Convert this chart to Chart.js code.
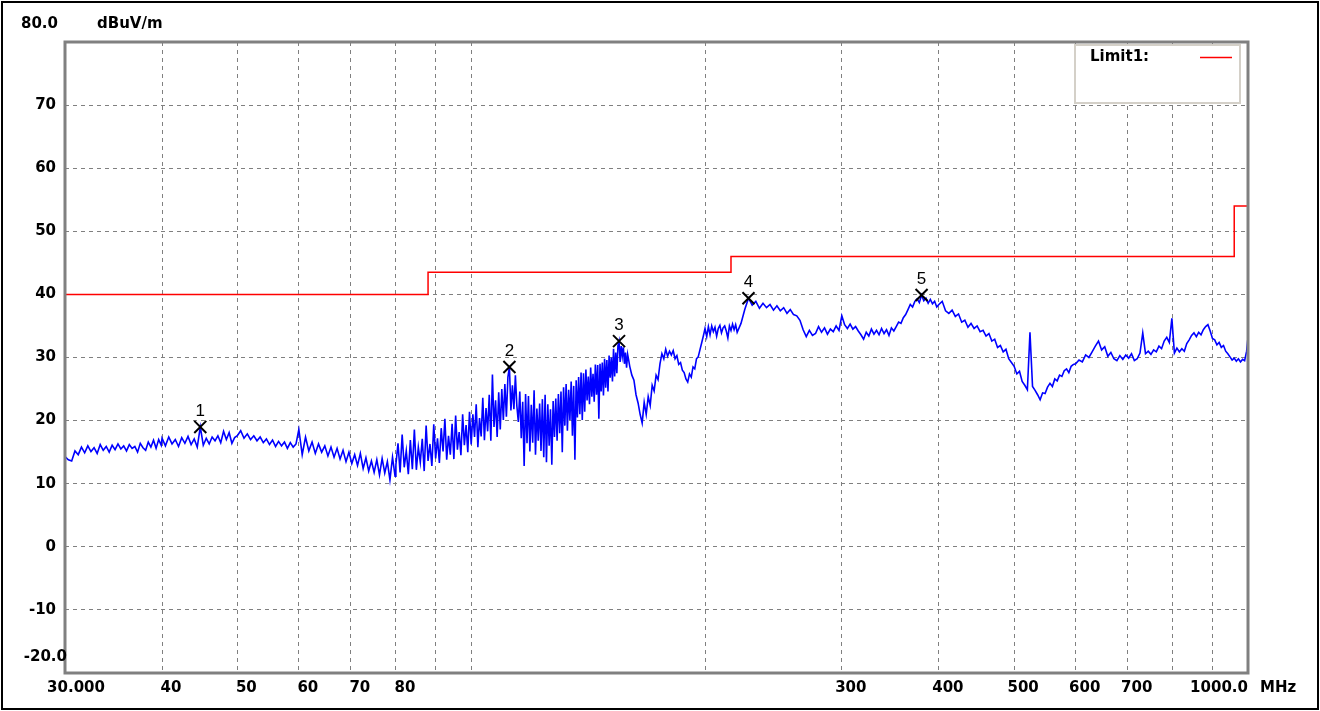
<!DOCTYPE html>
<html>
<head>
<meta charset="utf-8">
<title>Radiated emission scan</title>
<script src="https://cdn.jsdelivr.net/npm/chart.js@4.4.1/dist/chart.umd.min.js"></script>
<style>
  html, body { margin: 0; padding: 0; background: #fff; }
  canvas { display: block; }
</style>
</head>
<body>
<canvas id="scan" width="1320" height="711"></canvas>
<script>
// sweep frequencies, MHz
const freqMHz = [
  30.0, 30.3, 30.6, 30.9, 31.2, 31.5, 31.8, 32.1, 32.4, 32.7,
  33.0, 33.3, 33.6, 33.9, 34.2, 34.5, 34.8, 35.1, 35.4, 35.7,
  36.0, 36.3, 36.6, 36.9, 37.2, 37.5, 37.8, 38.1, 38.4, 38.7,
  39.0, 39.3, 39.6, 39.9,
  40.0, 40.4, 40.8, 41.2, 41.6, 42.0, 42.4, 42.8, 43.2, 43.6,
  44.0, 44.4, 44.8, 45.2, 45.6, 46.0, 46.4, 46.8, 47.2, 47.6,
  48.0, 48.4, 48.8, 49.2, 49.6,
  50.0, 50.5, 51.0, 51.5, 52.0, 52.5, 53.0, 53.5, 54.0, 54.5,
  55.0, 55.5, 56.0, 56.5, 57.0, 57.5, 58.0, 58.5, 59.0, 59.5,
  60.0, 60.6, 61.2, 61.8, 62.4, 63.0, 63.6, 64.2, 64.8, 65.4,
  66.0, 66.6, 67.2, 67.8, 68.4, 69.0, 69.6, 70.2, 70.8, 71.4,
  72.0, 72.6, 73.2, 73.8, 74.4, 75.0, 75.6, 76.2, 76.8, 77.4,
  78.0, 78.6, 79.2, 79.8,
  80.0, 80.5, 81.0, 81.5, 82.0, 82.5, 83.0, 83.5, 84.0, 84.5,
  85.0, 85.5, 86.0, 86.5, 87.0, 87.5, 88.0, 88.5, 89.0, 89.5,
  90.0, 90.5, 91.0, 91.5, 92.0, 92.5, 93.0, 93.5, 94.0, 94.5,
  95.0, 95.5, 96.0, 96.5, 97.0, 97.5, 98.0, 98.5, 99.0, 99.5,
  100.0, 100.5, 101.0, 101.5, 102.0, 102.5, 103.0, 103.5, 104.0, 104.5,
  105.0, 105.5, 106.0, 106.5, 107.0, 107.5, 108.0, 108.5, 109.0, 109.5,
  110.0, 110.5, 111.0, 111.5, 112.0, 112.5, 113.0, 113.5, 114.0, 114.5,
  115.0, 115.5, 116.0, 116.5, 117.0, 117.5, 118.0, 118.5, 119.0, 119.5,
  120.0, 120.5, 121.0, 121.5, 122.0, 122.5, 123.0, 123.5, 124.0, 124.5,
  125.0, 125.5, 126.0, 126.5, 127.0, 127.5, 128.0, 128.5, 129.0, 129.5,
  130.0, 130.5, 131.0, 131.5, 132.0, 132.5, 133.0, 133.5, 134.0, 134.5,
  135.0, 135.5, 136.0, 136.5, 137.0, 137.5, 138.0, 138.5, 139.0, 139.5,
  140.0, 140.5, 141.0, 141.5, 142.0, 142.5, 143.0, 143.5, 144.0, 144.5,
  145.0, 145.5, 146.0, 146.5, 147.0, 147.5, 148.0, 148.5, 149.0, 149.5,
  150.0, 150.5, 151.0, 151.5, 152.0, 152.5, 153.0, 153.5, 154.0, 154.5,
  155.0, 155.5, 156.0, 156.5, 157.0, 157.5, 158.0, 158.5, 159.0, 159.5,
  160, 161, 162, 163, 164, 165, 166, 167, 168, 169,
  170, 171, 172, 173, 174, 175, 176, 177, 178, 179,
  180, 181, 182, 183, 184, 185, 186, 187, 188, 189,
  190, 191, 192, 193, 194, 195, 196, 197, 198, 199,
  200, 201, 202, 203, 204, 205, 206, 207, 208, 209,
  210, 211, 212, 213, 214, 215, 216, 217, 218, 219,
  220.0, 222.5, 225.0, 227.5, 230.0, 232.5, 235.0, 237.5, 240.0, 242.5,
  245.0, 247.5, 250.0, 252.5, 255.0, 257.5, 260.0, 262.5, 265.0, 267.5,
  270.0, 272.5, 275.0, 277.5, 280.0, 282.5, 285.0, 287.5, 290.0, 292.5,
  295.0, 297.5, 300.0, 302.5, 305.0, 307.5, 310.0, 312.5, 315.0, 317.5,
  320.0, 322.5, 325.0, 327.5, 330.0, 332.5, 335.0, 337.5, 340.0, 342.5,
  345.0, 347.5, 350.0, 352.5, 355.0, 357.5, 360.0, 362.5, 365.0, 367.5,
  370.0, 372.5, 375.0, 377.5, 380.0, 382.5, 385.0, 387.5, 390.0, 392.5,
  395.0, 397.5,
  400, 404, 408, 412, 416, 420, 424, 428, 432, 436,
  440, 444, 448, 452, 456, 460, 464, 468, 472, 476,
  480, 484, 488, 492, 496, 500, 504, 508, 512, 516,
  520, 524, 528, 532, 536, 540, 544, 548, 552, 556,
  560, 564, 568, 572, 576, 580, 584, 588, 592, 596,
  600, 606, 612, 618, 624, 630, 636, 642, 648, 654,
  660, 666, 672, 678, 684, 690, 696, 702, 708, 714,
  720, 726, 732, 738, 744, 750, 756, 762, 768, 774,
  780, 786, 792, 798, 804, 810, 816, 822, 828, 834,
  840, 846, 852, 858, 864, 870, 876, 882, 888, 894,
  900, 906, 912, 918, 924, 930, 936, 942, 948, 954,
  960, 966, 972, 978, 984, 990, 996, 1000
];

// measured level, dBuV/m
const levelDb = [
  14.3, 13.8, 13.6, 15.2, 14.6, 15.8, 14.9, 16.0, 15.1, 15.7,
  14.8, 16.2, 15.3, 15.9, 15.0, 16.1, 15.4, 16.3, 15.5, 16.0,
  15.2, 16.2, 15.6, 15.9, 15.0, 16.4, 15.7, 15.3, 16.6, 15.8,
  16.9, 15.6, 17.0, 16.1,
  17.2, 16.0, 17.4, 16.3, 17.0, 15.9, 17.3, 16.4, 17.5, 16.2,
  17.1, 15.8, 19.0, 16.1, 17.2, 16.3, 17.4, 16.8, 17.6, 16.5,
  18.3, 17.0, 18.1, 16.4, 17.3,
  17.6, 18.4, 17.2, 17.9, 17.0, 17.6, 16.8, 17.4, 16.5, 17.1,
  16.2, 16.9, 15.9, 16.7, 16.0, 16.6, 15.6, 16.5, 15.8, 16.3,
  18.6, 14.6, 17.4, 15.2, 16.6, 14.8, 16.3, 15.0, 16.0, 14.4,
  15.8, 14.2, 15.6, 13.9, 15.3, 13.5, 15.0, 13.2, 14.6, 12.9,
  14.8, 12.4, 14.1, 12.0, 13.6, 11.8, 13.8, 11.4, 14.0, 11.7,
  13.5, 10.6, 14.2, 11.2,
  13.0, 16.4, 11.8, 17.8, 12.6, 15.2, 11.5, 16.9, 12.3, 18.6,
  12.2, 15.8, 13.4, 17.1, 12.0, 19.2, 13.6, 16.3, 12.8, 19.4,
  14.0, 17.2, 13.3, 18.8, 15.1, 20.3, 13.8, 17.6, 14.6, 19.5,
  13.9, 20.8, 15.4, 18.2, 14.5, 21.0, 16.1, 19.3, 15.0, 21.4,
  16.2, 21.0, 17.4, 22.6, 15.8, 20.4, 17.5, 23.6, 16.9, 22.0,
  18.3, 24.1, 16.8, 27.3, 19.0, 23.2, 17.4, 24.5, 18.6, 25.0,
  20.1, 25.8, 20.6, 26.9, 28.5, 21.6, 25.6, 21.8, 27.2, 22.3,
  19.8, 24.6, 17.2, 23.0, 12.8, 24.2, 16.4, 23.9, 15.1, 22.5,
  16.5, 24.8, 14.6, 21.9, 16.8, 22.7, 15.2, 23.4, 14.2, 24.1,
  13.4, 22.6, 16.0, 21.8, 13.0, 23.1, 17.4, 23.5, 16.8, 24.2,
  18.0, 24.6, 15.0, 25.3, 19.2, 25.8, 18.4, 24.9, 20.1, 26.2,
  17.6, 25.5, 13.8, 26.4, 20.5, 26.9, 21.0, 27.6, 20.1, 27.5,
  21.4, 28.1, 23.2, 27.0, 22.6, 28.4, 23.8, 27.4, 23.0, 28.9,
  24.1, 28.8, 20.3, 29.0, 24.6, 29.2, 24.0, 29.8, 25.2, 29.6,
  24.6, 30.3, 26.8, 30.0, 26.2, 31.4, 27.0, 30.8, 27.5, 31.9,
  32.6, 29.3, 31.8, 30.2, 31.6, 29.0, 30.8, 28.4, 30.5, 29.6,
  28.6, 27.2, 26.4, 24.1, 22.8, 21.0, 19.6, 22.9, 21.0, 23.8,
  22.4, 25.6, 24.7, 27.2, 26.5, 29.0, 30.6, 29.8, 31.3, 30.2,
  31.0, 30.4, 31.1, 29.8, 30.3, 28.9, 29.2, 28.0, 27.6, 26.6,
  26.1, 27.4, 26.9, 28.5, 28.2, 29.8, 30.1, 31.2, 32.3, 33.4,
  34.6, 33.3, 34.9, 33.6, 35.0, 34.1, 34.8, 33.4, 34.6, 35.1,
  33.9, 34.7, 35.0, 34.2, 33.1, 35.0, 34.3, 35.3, 34.4, 35.2,
  34.0, 35.4, 37.6, 39.4, 38.3, 38.9, 37.8, 38.6, 37.9, 38.4,
  37.5, 38.2, 37.4, 37.9, 37.0, 37.6, 36.8, 36.6, 35.9, 34.4,
  33.3, 34.3, 33.5, 33.8, 34.9, 34.0, 34.7, 33.7, 34.5, 34.1,
  35.0, 34.3, 36.6, 35.2, 34.6, 35.3, 34.5, 34.9, 34.2, 33.6,
  32.9, 34.0, 33.4, 34.5, 33.7, 34.3, 33.6, 34.6, 33.8, 34.4,
  33.5, 34.7, 34.2, 34.9, 35.6, 35.4, 36.3, 36.8, 37.6, 38.4,
  38.0, 38.9, 39.3, 38.7, 39.9, 39.0, 39.4, 38.6, 39.2, 38.5,
  38.9, 38.0,
  38.4, 38.9, 37.4, 37.0, 37.5, 36.5, 36.9, 35.6, 35.9, 34.8,
  35.4, 34.6, 35.0, 34.1, 34.3, 33.4, 33.8, 32.6, 32.9, 31.6,
  31.9, 30.9, 31.3, 29.8, 29.2, 28.6, 27.4, 27.8, 26.2, 25.6,
  24.9, 34.0, 25.4, 24.8, 24.1, 23.3, 24.4, 24.3, 25.3, 25.9,
  25.4, 26.6, 26.3, 27.2, 27.0, 27.9, 28.2, 27.6, 28.6, 28.9,
  29.0, 29.6, 29.3, 30.4, 30.0, 30.9, 31.8, 32.6, 31.2, 31.7,
  30.2, 30.8, 29.8, 29.5, 30.3, 29.7, 30.4, 29.9, 30.6, 29.5,
  29.8, 30.7, 33.9, 30.6, 31.0, 30.5, 31.2, 30.9, 31.8, 31.4,
  32.6, 33.2, 32.4, 36.2, 30.7, 31.5, 30.9, 31.4, 31.0, 32.2,
  32.8, 33.5, 33.9, 33.3, 34.0, 33.6, 34.4, 34.9, 35.2, 34.2,
  33.0, 32.8, 32.0, 32.4, 31.6, 31.9, 31.0, 30.6, 30.1, 29.6,
  29.9, 29.4, 29.8, 29.3, 29.7, 29.5, 31.0, 33.2
];

// Limit1 (stepped)
const limitFreq = [30, 88, 88, 216, 216, 960, 960, 1000];
const limitLevel = [40, 40, 43.5, 43.5, 46, 46, 54, 54];

// peak markers
const markerNames = ['1', '2', '3', '4', '5'];
const markerFreq = [44.8, 112, 155, 227.5, 380];
const markerLevel = [19.0, 28.5, 32.6, 39.4, 39.9];

// axes
const xGridMHz = [30, 40, 50, 60, 70, 80, 90, 100, 200, 300, 400, 500, 600, 700, 800, 900, 1000];
const xTickValues = [30, 40, 50, 60, 70, 80, 300, 400, 500, 600, 700, 1000];
const xTickLabels = ['30.000', '40', '50', '60', '70', '80', '300', '400', '500', '600', '700', '1000.0'];
const yTickValues = [80, 70, 60, 50, 40, 30, 20, 10, 0, -10, -20];
const yTickLabels = ['80.0', '70', '60', '50', '40', '30', '20', '10', '0', '-10', '-20.0'];

const AXIS_FONT = 'bold 15px "DejaVu Sans"';

const toPoints = (xs, ys) => xs.map((x, i) => ({ x: x, y: ys[i] }));

const frame = {
  id: 'frame',
  beforeDraw(chart) {
    const ctx = chart.ctx;
    ctx.save();
    ctx.fillStyle = '#fff';
    ctx.fillRect(0, 0, chart.width, chart.height);
    ctx.restore();
  },
  afterDraw(chart) {
    const { ctx, chartArea: a, scales: { x, y } } = chart;
    ctx.save();

    // plot box and outer frame
    ctx.strokeStyle = '#808080';
    ctx.lineWidth = 3;
    ctx.strokeRect(a.left, a.top, a.right - a.left, a.bottom - a.top);
    ctx.strokeStyle = '#000';
    ctx.lineWidth = 2;
    ctx.strokeRect(2, 2, chart.width - 4, chart.height - 4);

    // y labels
    ctx.fillStyle = '#000';
    ctx.font = AXIS_FONT;
    ctx.textBaseline = 'middle';
    yTickValues.forEach((v, i) => {
      let py = y.getPixelForValue(v);
      let px = 56;
      if (i === 0) { py -= 18; px = 58; }
      if (i === yTickValues.length - 1) { py -= 16; px = 67; }
      ctx.textAlign = 'right';
      ctx.fillText(yTickLabels[i], px, py);
    });
    ctx.textAlign = 'left';
    ctx.fillText('dBuV/m', 97, y.getPixelForValue(80) - 18);

    // x labels
    const ly = a.bottom + 15;
    xTickValues.forEach((v, i) => {
      const px = x.getPixelForValue(v);
      if (i === xTickValues.length - 1) {
        ctx.textAlign = 'right';
        ctx.fillText(xTickLabels[i], a.right, ly);
      } else {
        ctx.textAlign = 'center';
        ctx.fillText(xTickLabels[i], px + (i === 0 ? 11 : 9), ly);
      }
    });
    ctx.textAlign = 'left';
    ctx.fillText('MHz', a.right + 12, ly);

    // legend
    ctx.fillStyle = '#fff';
    ctx.fillRect(1075, 45, 165, 58);
    ctx.strokeStyle = '#d4d0c8';
    ctx.lineWidth = 2;
    ctx.strokeRect(1075, 45, 165, 58);
    ctx.fillStyle = '#000';
    ctx.textAlign = 'left';
    ctx.fillText('Limit1:', 1090, 57);
    ctx.strokeStyle = '#ff0000';
    ctx.lineWidth = 1.5;
    ctx.beginPath();
    ctx.moveTo(1200, 57.5);
    ctx.lineTo(1232, 57.5);
    ctx.stroke();

    // marker numbers
    ctx.font = '17px "Liberation Sans"';
    ctx.textAlign = 'center';
    markerNames.forEach((n, i) => {
      const px = x.getPixelForValue(markerFreq[i]);
      const py = y.getPixelForValue(markerLevel[i]);
      ctx.fillText(n, px, py - 16);
    });
    ctx.restore();
  }
};

const gridStyle = { color: '#808080', lineWidth: 1, drawTicks: false };

new Chart(document.getElementById('scan'), {
  type: 'line',
  data: {
    datasets: [
      {
        label: 'Peaks',
        data: toPoints(markerFreq, markerLevel),
        showLine: false,
        pointStyle: 'crossRot',
        pointRadius: 8.5,
        borderColor: '#000',
        backgroundColor: '#000',
        borderWidth: 2
      },
      {
        label: 'Limit1',
        data: toPoints(limitFreq, limitLevel),
        borderColor: '#ff0000',
        borderWidth: 1.5,
        pointRadius: 0
      },
      {
        label: 'Level',
        data: toPoints(freqMHz, levelDb),
        borderColor: '#0000ff',
        borderWidth: 1.6,
        pointRadius: 0
      }
    ]
  },
  options: {
    responsive: false,
    animation: false,
    devicePixelRatio: 1,
    layout: { padding: { left: 65, top: 42, right: 72, bottom: 38 } },
    plugins: { legend: { display: false }, tooltip: { enabled: false } },
    scales: {
      x: {
        type: 'logarithmic',
        min: 30,
        max: 1000,
        afterBuildTicks: scale => { scale.ticks = xGridMHz.map(v => ({ value: v })); },
        ticks: { display: false },
        grid: gridStyle,
        border: { display: false, dash: [4, 4] }
      },
      y: {
        min: -20,
        max: 80,
        ticks: { display: false, stepSize: 10 },
        grid: gridStyle,
        border: { display: false, dash: [4, 4] }
      }
    }
  },
  plugins: [frame]
});
</script>
</body>
</html>
